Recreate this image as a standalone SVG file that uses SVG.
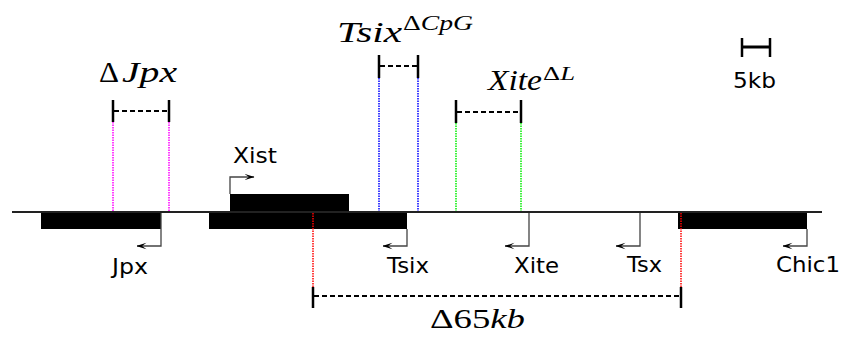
<svg xmlns="http://www.w3.org/2000/svg" width="842" height="338" viewBox="0 0 842 338">
  <defs>
    <marker id="tss" viewBox="0 0 10 8" refX="9.5" refY="4" markerWidth="10" markerHeight="8" markerUnits="userSpaceOnUse" orient="auto">
      <path d="M0,4 L10,0.8 L5.5,4 L10,7.2 Z" transform="rotate(180 5 4)" fill="#000"/>
    </marker>
    <style>
      .chrom { stroke: #222; stroke-width: 1.8; fill: none; }
      .block { fill: #000; }
      .tss { stroke: #444; stroke-width: 1.3; fill: none; marker-end: url(#tss); }
      .gene { font-family: "DejaVu Sans", sans-serif; font-size: 22px; fill: #000; }
      .math { font-family: "Liberation Serif", "DejaVu Serif", serif; font-style: italic; fill: #000; }
      .up { font-style: normal; }
      .tick { stroke: #000; stroke-width: 2.5; fill: none; }
      .span { stroke: #000; stroke-width: 2; stroke-dasharray: 5 3; fill: none; }
      .guide { stroke-width: 1.5; stroke-dasharray: 1.5 1; fill: none; }
    </style>
  </defs>

  <!-- chromosome axis -->
  <line class="chrom" x1="12" y1="212" x2="822" y2="212"/>

  <!-- genes -->
  <g id="gene-jpx">
    <rect class="block" x="41" y="213" width="120" height="16"/>
    <text class="gene" x="112" y="274" textLength="36" lengthAdjust="spacingAndGlyphs">Jpx</text>
  </g>
  <g id="gene-xist">
    <rect class="block" x="230" y="194" width="119" height="17"/>
    <text class="gene" x="233" y="163" textLength="44" lengthAdjust="spacingAndGlyphs">Xist</text>
  </g>
  <g id="gene-tsix">
    <rect class="block" x="209" y="213" width="198" height="16"/>
    <text class="gene" x="387" y="273" textLength="42" lengthAdjust="spacingAndGlyphs">Tsix</text>
  </g>
  <g id="gene-xite">
    <text class="gene" x="514" y="273" textLength="45" lengthAdjust="spacingAndGlyphs">Xite</text>
  </g>
  <g id="gene-tsx">
    <text class="gene" x="627" y="272" textLength="35" lengthAdjust="spacingAndGlyphs">Tsx</text>
  </g>
  <g id="gene-chic1">
    <rect class="block" x="678" y="213" width="129" height="16"/>
    <text class="gene" x="776" y="272" textLength="64" lengthAdjust="spacingAndGlyphs">Chic1</text>
  </g>

  <!-- scale bar -->
  <g id="scale">
    <line class="tick" x1="742" y1="38" x2="742" y2="57"/>
    <line class="tick" x1="770" y1="38" x2="770" y2="57"/>
    <line stroke="#000" stroke-width="3" x1="742" y1="47" x2="770" y2="47"/>
    <text class="gene" x="733" y="88" textLength="43" lengthAdjust="spacingAndGlyphs">5kb</text>
  </g>

  <!-- deletions -->
  <g id="del-jpx">
    <line class="guide" stroke="#ff00ff" x1="113" y1="122" x2="113" y2="211"/>
    <line class="guide" stroke="#ff00ff" x1="169" y1="122" x2="169" y2="211"/>
    <line class="tick" x1="113" y1="100" x2="113" y2="122"/>
    <line class="tick" x1="169" y1="100" x2="169" y2="122"/>
    <line class="span" x1="114" y1="111" x2="168" y2="111"/>
    <text class="math up" x="99" y="82" font-size="30" textLength="20" lengthAdjust="spacingAndGlyphs">Δ</text>
    <text class="math" x="122" y="82" font-size="30" textLength="55" lengthAdjust="spacingAndGlyphs">Jpx</text>
  </g>
  <g id="del-tsix-cpg">
    <line class="guide" stroke="#0000ff" x1="379" y1="78" x2="379" y2="211"/>
    <line class="guide" stroke="#0000ff" x1="418" y1="78" x2="418" y2="211"/>
    <line class="tick" x1="379" y1="55" x2="379" y2="78"/>
    <line class="tick" x1="418" y1="55" x2="418" y2="78"/>
    <line class="span" x1="380" y1="66" x2="417" y2="66"/>
    <text class="math" x="337" y="42" font-size="30" textLength="65" lengthAdjust="spacingAndGlyphs">Tsix</text>
    <text class="math" x="403" y="30" font-size="20" textLength="70" lengthAdjust="spacingAndGlyphs"><tspan class="up">Δ</tspan>CpG</text>
  </g>
  <g id="del-xite-l">
    <line class="guide" stroke="#00ee00" x1="456" y1="123" x2="456" y2="211"/>
    <line class="guide" stroke="#00ee00" x1="521" y1="123" x2="521" y2="211"/>
    <line class="tick" x1="456" y1="100" x2="456" y2="123"/>
    <line class="tick" x1="521" y1="100" x2="521" y2="123"/>
    <line class="span" x1="457" y1="112" x2="520" y2="112"/>
    <text class="math" x="488" y="90" font-size="29" textLength="54" lengthAdjust="spacingAndGlyphs">Xite</text>
    <text class="math" x="543" y="80" font-size="19" textLength="32" lengthAdjust="spacingAndGlyphs"><tspan class="up">Δ</tspan>L</text>
  </g>
  <g id="del-65kb">
    <line class="guide" stroke="#ff0000" x1="313" y1="213" x2="313" y2="287"/>
    <line class="guide" stroke="#ff0000" x1="681" y1="213" x2="681" y2="287"/>
    <line class="tick" x1="313" y1="287" x2="313" y2="308"/>
    <line class="tick" x1="681" y1="287" x2="681" y2="308"/>
    <line class="span" x1="314" y1="296" x2="680" y2="296"/>
    <text class="math" x="430" y="328" font-size="28" textLength="95" lengthAdjust="spacingAndGlyphs"><tspan class="up">Δ65</tspan>kb</text>
  </g>

  <!-- transcription start arrows -->
  <g id="connectors">
    <path class="tss" d="M161,213 V246 H137"/>
    <path class="tss" d="M230,194 V177 H254"/>
    <path class="tss" d="M407,229 V246 H383"/>
    <path class="tss" d="M529,213 V246 H505"/>
    <path class="tss" d="M640,213 V246 H616"/>
    <path class="tss" d="M807,229 V246 H783"/>
  </g>
</svg>
